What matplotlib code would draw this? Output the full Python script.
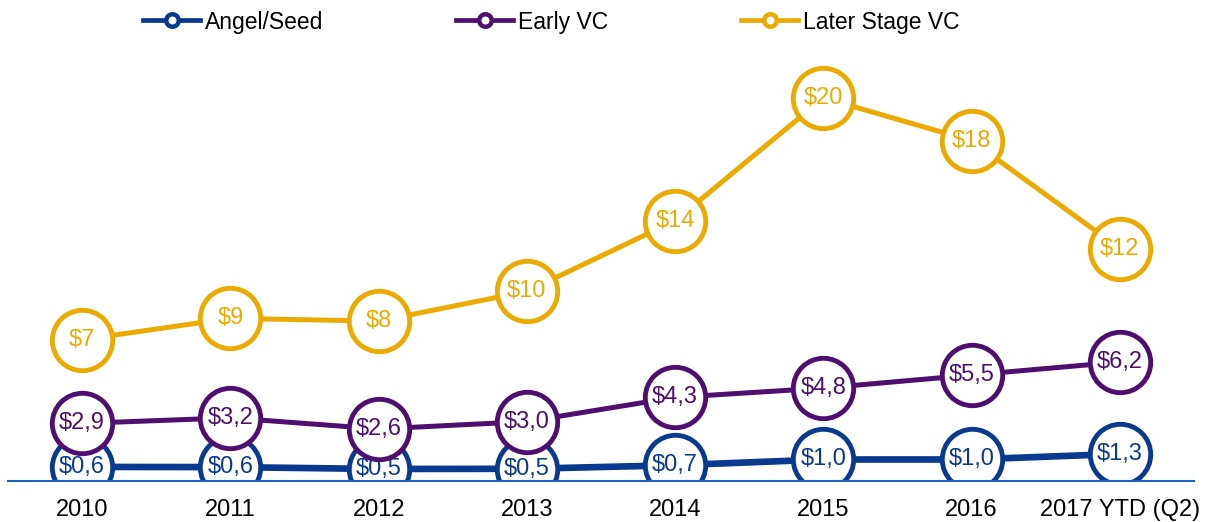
import matplotlib
matplotlib.use("Agg")
import matplotlib.pyplot as plt
from matplotlib.lines import Line2D

plt.rcParams['font.family'] = ['Liberation Sans', 'DejaVu Sans']

years = ["2010", "2011", "2012", "2013", "2014", "2015", "2016", "2017 YTD (Q2)"]
angel_seed = [0.56, 0.55, 0.45, 0.46, 0.65, 0.96, 0.96, 1.26]
early_vc = [2.9, 3.2, 2.6, 3.0, 4.3, 4.8, 5.5, 6.2]
later_vc = [7.4, 8.55, 8.4, 10.0, 13.8, 20.4, 18.1, 12.3]

series = [
    ("Angel/Seed", angel_seed, "#0A3A8E", 4.8, "{:.1f}"),
    ("Early VC", early_vc, "#4E0F6E", 3.6, "{:.1f}"),
    ("Later Stage VC", later_vc, "#EAAA00", 3.6, "{:.0f}"),
]

fig = plt.figure(figsize=(12.1, 5.22), dpi=100)
ax = fig.add_axes([8 / 1210, 1 - 480.5 / 522, 1186 / 1210, (480.5 - 31) / 522])

x = list(range(len(years)))
handles = []
for i, (name, vals, color, lw, fmt) in enumerate(series):
    z = 2 + i * 2
    ax.plot(x, vals, color=color, lw=lw, marker='o', ms=43.5, mfc='white',
            mec=color, mew=3.5, zorder=z, solid_capstyle='butt')
    for xi, v in zip(x, vals):
        lab = "$" + fmt.format(v).replace('.', ',')
        ax.text(xi, v, lab, ha='center', va='center', fontsize=17,
                color=color, zorder=z + 0.5)
    handles.append(Line2D([], [], color=color, lw=3.4, marker='o', ms=9,
                          mfc='white', mec=color, mew=3.2))

ax.set_xlim(-0.5, 7.5)
ax.set_ylim(-0.17, 24)
ax.set_yticks([])
ax.set_xticks(x)
ax.set_xticklabels(years, fontsize=17)
ax.tick_params(axis='x', length=0, pad=13)
for s in ['top', 'right', 'left']:
    ax.spines[s].set_visible(False)
ax.spines['bottom'].set_color('#1E64BE')
ax.spines['bottom'].set_linewidth(1.5)
ax.patch.set_alpha(0)

fig.legend(handles, [s[0] for s in series], loc='center left',
           bbox_to_anchor=(143 / 1210, 1 - 22 / 522), ncol=3, frameon=False,
           fontsize=16.5, handlelength=2.5, handletextpad=0.2,
           columnspacing=5.8, borderpad=0, borderaxespad=0)

fig.savefig("out.png", dpi=100)
